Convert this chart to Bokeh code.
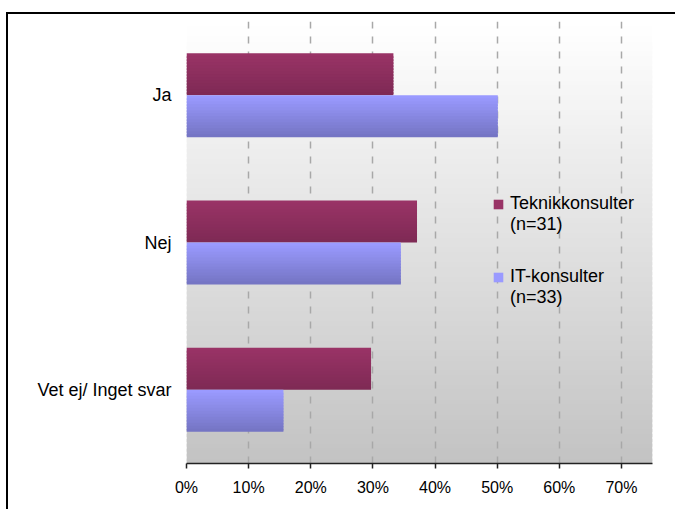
from bokeh.plotting import figure
from bokeh.models import FixedTicker, NumeralTickFormatter, Legend, LegendItem, ColumnDataSource
from bokeh.embed import file_html
from bokeh.resources import INLINE

# Survey answers (share of respondents)
categories = ["Ja", "Nej", "Vet ej/ Inget svar"]
teknik = [0.333, 0.371, 0.297]
it_kons = [0.501, 0.345, 0.156]
series_labels = ["Teknikkonsulter\n(n=31)", "IT-konsulter\n(n=33)"]
x_ticks = [0.0, 0.1, 0.2, 0.3, 0.4, 0.5, 0.6, 0.7]

FONT = "Liberation Sans"
X_MAX = 0.75
BAR_H = 0.285
N_STRIPS = 14


def hexmix(c1, c2, t):
    a = [int(c1[i:i + 2], 16) for i in (1, 3, 5)]
    b = [int(c2[i:i + 2], 16) for i in (1, 3, 5)]
    return "#" + "".join(f"{round(a[j] + (b[j] - a[j]) * t):02x}" for j in range(3))


p = figure(
    frame_width=466, frame_height=442,
    min_border_left=178, min_border_right=23, min_border_top=7, min_border_bottom=46,
    x_range=(0, X_MAX), y_range=(0, len(categories)),
    output_backend="svg", toolbar_location=None,
)
p.margin = (12, 0, 0, 6)
p.styles = {"border-left": "2px solid black", "border-top": "2px solid black"}
p.outline_line_color = None
p.background_fill_color = "white"
p.border_fill_color = "white"

# vertical gradient behind the plot area
n_bg = 90
bg_top = [len(categories) * (1 - k / n_bg) for k in range(n_bg)]
bg_bot = [max(0.0, t - 1.6 * len(categories) / n_bg) for t in bg_top]
bg_col = [hexmix("#ffffff", "#c3c3c3", k / (n_bg - 1)) for k in range(n_bg)]
bg = p.quad(left=0, right=X_MAX, top=bg_top, bottom=bg_bot, fill_color=bg_col, line_color=None)
bg.level = "image"


def bar_strips(values, upper, c_top, c_bot):
    data = dict(left=[], right=[], top=[], bottom=[], color=[])
    dh = BAR_H / N_STRIPS
    for i, v in enumerate(values):
        center = len(categories) - 0.5 - i
        b_top = center + BAR_H if upper else center
        b_bot = b_top - BAR_H
        for k in range(N_STRIPS):
            t = b_top - k * dh
            data["left"].append(0)
            data["right"].append(v)
            data["top"].append(t)
            data["bottom"].append(max(b_bot, t - 1.6 * dh))
            data["color"].append(hexmix(c_top, c_bot, k / (N_STRIPS - 1)))
    return p.quad(left="left", right="right", top="top", bottom="bottom",
                  fill_color="color", line_color=None, source=ColumnDataSource(data))


r_tek = bar_strips(teknik, True, "#993366", "#7f2a55")
r_it = bar_strips(it_kons, False, "#9a9aff", "#7575c4")

# axes
p.xaxis.ticker = FixedTicker(ticks=x_ticks)
p.xaxis.formatter = NumeralTickFormatter(format="0%")
p.xaxis.axis_line_color = "#222222"
p.xaxis.axis_line_width = 1.5
p.xaxis.major_tick_line_color = "#222222"
p.xaxis.major_tick_line_width = 1.5
p.xaxis.major_tick_in = 0
p.xaxis.major_tick_out = 5
p.xaxis.minor_tick_line_color = None
p.xaxis.major_label_text_font = FONT
p.xaxis.major_label_text_font_size = "16px"
p.xaxis.major_label_text_color = "black"
p.xaxis.major_label_standoff = 10

y_pos = [len(categories) - 0.5 - i for i in range(len(categories))]
p.yaxis.ticker = FixedTicker(ticks=y_pos)
p.yaxis.major_label_overrides = {y: c for y, c in zip(y_pos, categories)}
p.yaxis.axis_line_color = None
p.yaxis.major_tick_line_color = None
p.yaxis.minor_tick_line_color = None
p.yaxis.major_label_text_font = FONT
p.yaxis.major_label_text_font_size = "18px"
p.yaxis.major_label_text_color = "black"
p.yaxis.major_label_standoff = 9

p.xgrid.grid_line_color = "#a8a8a8"
p.xgrid.grid_line_dash = "7 8"
p.xgrid.grid_line_width = 1.5
p.ygrid.grid_line_color = None

# a blank first line keeps each swatch level with the series name
legend = Legend(
    items=[LegendItem(label=" \n" + series_labels[0], renderers=[r_tek], index=0),
           LegendItem(label=" \n" + series_labels[1], renderers=[r_it], index=0)],
    location=(306, 155),
    padding=0, margin=0, spacing=10,
    glyph_width=12, glyph_height=12, label_standoff=6,
    label_text_font=FONT, label_text_font_size="18px", label_text_color="black",
    label_text_line_height=1.45,
    background_fill_alpha=0, border_line_color=None,
)
p.add_layout(legend)

open("out.html", "w").write(file_html(p, INLINE))
